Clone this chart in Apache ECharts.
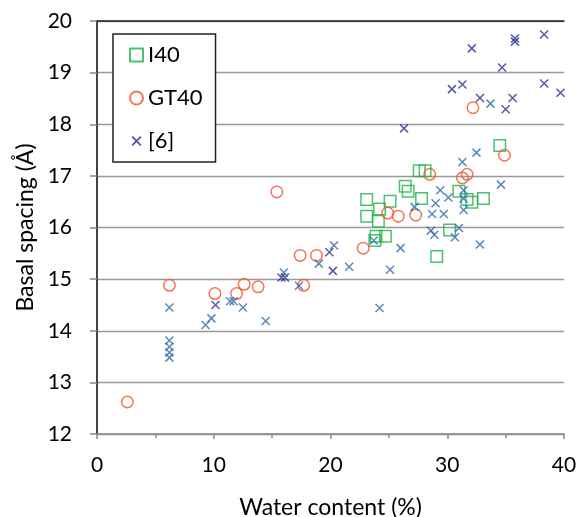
<!DOCTYPE html>
<html>
<head>
<meta charset="utf-8">
<script src="https://cdn.jsdelivr.net/npm/echarts@6/dist/echarts.min.js"></script>
<style>
    html, body { margin: 0; padding: 0; background: #fff; }
    #chart { width: 579px; height: 517px; }
</style>
</head>
<body>
<div id="chart"></div>
<script>
// 數據: [含水量 %, 層間距 Å]
var i40Data = [
    [23.1, 16.54], [23.1, 16.22], [24.2, 16.36], [24.1, 16.12], [25.1, 16.51],
    [26.4, 16.80], [26.65, 16.70], [27.6, 17.10], [28.1, 17.10], [27.8, 16.56],
    [23.9, 15.83], [23.8, 15.75], [24.7, 15.83], [29.1, 15.44], [30.2, 15.95],
    [31.0, 16.70], [31.7, 16.54], [32.1, 16.49], [33.1, 16.56], [34.5, 17.59]
];
var gt40Data = [
    [2.6, 12.62], [6.2, 14.88], [10.1, 14.72], [11.95, 14.72], [12.6, 14.90],
    [13.8, 14.85], [15.4, 16.69], [17.4, 15.46], [17.7, 14.88], [18.8, 15.46],
    [22.8, 15.60], [24.9, 16.28], [25.8, 16.22], [27.3, 16.24], [28.5, 17.03],
    [31.3, 16.96], [31.7, 17.03], [32.2, 18.32], [34.9, 17.40]
];
// [6] 深藍色點
var ref6Data = [
    [10.15, 14.50], [15.8, 15.03], [16.1, 15.03], [19.9, 15.52], [20.2, 15.16],
    [26.3, 17.92], [30.4, 18.68], [31.3, 18.77], [32.1, 19.47], [32.8, 18.51],
    [34.7, 19.10], [35.0, 18.29], [35.6, 18.51], [35.8, 19.66], [35.8, 19.60],
    [38.3, 19.74], [38.3, 18.79], [39.7, 18.61]
];
// [6] 藍色點 (同一來源, 圖例不另列)
var ref6bData = [
    [6.2, 14.45], [6.2, 13.81], [6.2, 13.69], [6.2, 13.58], [6.2, 13.48],
    [9.3, 14.11], [9.8, 14.24], [11.4, 14.57], [11.7, 14.57], [12.5, 14.45],
    [14.45, 14.19], [16.0, 15.13], [17.3, 14.87], [19.0, 15.30], [20.3, 15.65],
    [21.6, 15.24], [23.7, 15.75], [24.2, 14.44], [25.1, 15.18], [26.0, 15.60],
    [27.2, 16.40], [28.6, 15.94], [28.9, 15.86], [28.7, 16.26], [29.0, 16.47],
    [29.4, 16.72], [29.7, 16.26], [30.1, 16.58], [30.65, 15.81], [31.0, 15.99],
    [31.4, 16.72], [31.4, 16.56], [31.4, 16.34], [31.3, 17.27], [32.5, 17.45],
    [32.8, 15.67], [33.7, 18.40], [34.6, 16.83]
];
var legendNames = ['I40', 'GT40', '[6]'];

var FONT = 'Lato, "Open Sans", sans-serif';
var CROSS = 'path://M0,0L10,10M10,0L0,10';
var CROSS_LEGEND = 'path://M-2.5,-2.5M0,0L10,10M10,0L0,10M12.5,12.5';

document.addEventListener("DOMContentLoaded", function() {
    initChart();
});

function initChart() {
    var chart = echarts.init(document.getElementById('chart'), null, { renderer: 'canvas' });

    var legendIcons = ['rect', 'circle', CROSS_LEGEND];

    var option = {
        animation: false,
        backgroundColor: '#fff',
        grid: {
            left: 97,
            right: 15,
            top: 21,
            bottom: 83,
            outerBoundsMode: 'none'
        },
        legend: {
            data: legendNames.map(function (n, i) {
                return { name: n, icon: legendIcons[i] };
            }),
            orient: 'vertical',
            left: 113,
            top: 34,
            padding: [10, 13, 10, 16],
            itemGap: 21,
            itemWidth: 13,
            itemHeight: 13,
            borderColor: '#222',
            borderWidth: 1.5,
            backgroundColor: '#fff',
            textStyle: { fontSize: 22, fontFamily: FONT, color: '#000' }
        },
        xAxis: [
            {
                type: 'value',
                min: 0,
                max: 40,
                interval: 10,
                name: 'Water content (%)',
                nameLocation: 'middle',
                nameGap: 62,
                nameTextStyle: { fontSize: 23, fontFamily: FONT, color: '#000' },
                axisLine: { lineStyle: { color: '#888', width: 1.5 } },
                axisTick: { show: true, length: 5, lineStyle: { color: '#888', width: 1.5 } },
                minorTick: { show: true, splitNumber: 2, length: 4, lineStyle: { color: '#888', width: 1.5 } },
                axisLabel: { fontSize: 21, fontFamily: FONT, color: '#000', margin: 21 },
                splitLine: { show: false }
            },
            {
                // 上方邊框
                type: 'value',
                position: 'top',
                min: 0,
                max: 40,
                axisLine: { show: true, lineStyle: { color: '#222', width: 1.5 } },
                axisTick: { show: false },
                axisLabel: { show: false },
                splitLine: { show: false }
            }
        ],
        yAxis: [
            {
                type: 'value',
                min: 12,
                max: 20,
                interval: 1,
                name: 'Basal spacing (Å)',
                nameLocation: 'middle',
                nameGap: 60,
                nameTextStyle: { fontSize: 23, fontFamily: FONT, color: '#000' },
                axisLine: { show: true, lineStyle: { color: '#888', width: 1.5 } },
                axisTick: { show: true, length: 7, lineStyle: { color: '#888', width: 1.5 } },
                axisLabel: { fontSize: 21, fontFamily: FONT, color: '#000', margin: 25 },
                splitLine: { show: true, lineStyle: { color: '#999', width: 1.3 } }
            },
            {
                // 右方邊框
                type: 'value',
                position: 'right',
                min: 12,
                max: 20,
                axisLine: { show: true, lineStyle: { color: '#222', width: 1.5 } },
                axisTick: { show: false },
                axisLabel: { show: false },
                splitLine: { show: false }
            }
        ],
        series: [
            {
                name: 'I40',
                type: 'scatter',
                symbol: 'rect',
                symbolSize: 11.5,
                data: i40Data,
                itemStyle: { color: 'transparent', borderColor: '#22B14C', borderWidth: 1.5 }
            },
            {
                name: 'GT40',
                type: 'scatter',
                symbol: 'circle',
                symbolSize: 11.5,
                data: gt40Data,
                itemStyle: { color: 'transparent', borderColor: '#F2522B', borderWidth: 1.5 }
            },
            {
                name: '[6]',
                type: 'scatter',
                symbol: CROSS,
                symbolSize: 8,
                data: ref6Data,
                itemStyle: { color: 'transparent', borderColor: '#2E3192', borderWidth: 1.5 }
            },
            {
                name: '[6]b',
                type: 'scatter',
                symbol: CROSS,
                symbolSize: 8,
                data: ref6bData,
                itemStyle: { color: 'transparent', borderColor: '#2F6BA7', borderWidth: 1.5 }
            }
        ]
    };
    chart.setOption(option);

    window.addEventListener('resize', function () {
        chart.resize();
    });
}
</script>
</body>
</html>
